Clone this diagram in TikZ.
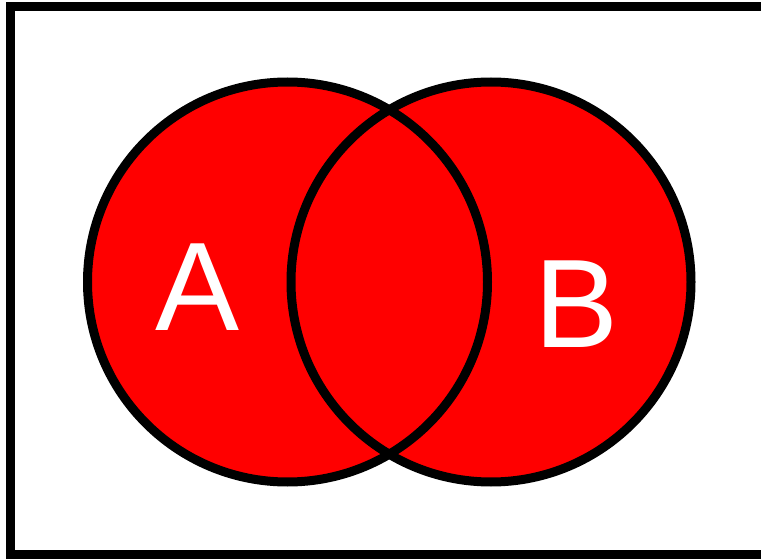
\documentclass[tikz,border=0pt]{standalone}
\usepackage{fontspec}
\setmainfont{Liberation Sans}
\begin{document}
\begin{tikzpicture}[x=1pt,y=-1pt,
  lab/.style={text=white,font=\fontsize{126}{126}\selectfont,inner sep=0pt,anchor=base},
  ring/.style={line width=9pt,draw=black},
  setfill/.style={fill={rgb,255:red,255;green,0;blue,0}}]
\useasboundingbox (0,0) rectangle (761,559);
\fill[white] (0,0) rectangle (761,559);
\clip (0,0) rectangle (761,559);
\draw[line width=9pt] (10.5,6.5) rectangle (766,554.5);
\coordinate (cA) at (287.5,282);
\coordinate (cB) at (491,282);
\fill[setfill] (cA) circle[radius=200pt];
\fill[setfill] (cB) circle[radius=200pt];
\draw[ring] (cA) circle[radius=200pt];
\draw[ring] (cB) circle[radius=200pt];
\node[lab] (A) at (198,330) {A};
\node[lab] (B) at (577,347) {B};
\end{tikzpicture}
\end{document}
